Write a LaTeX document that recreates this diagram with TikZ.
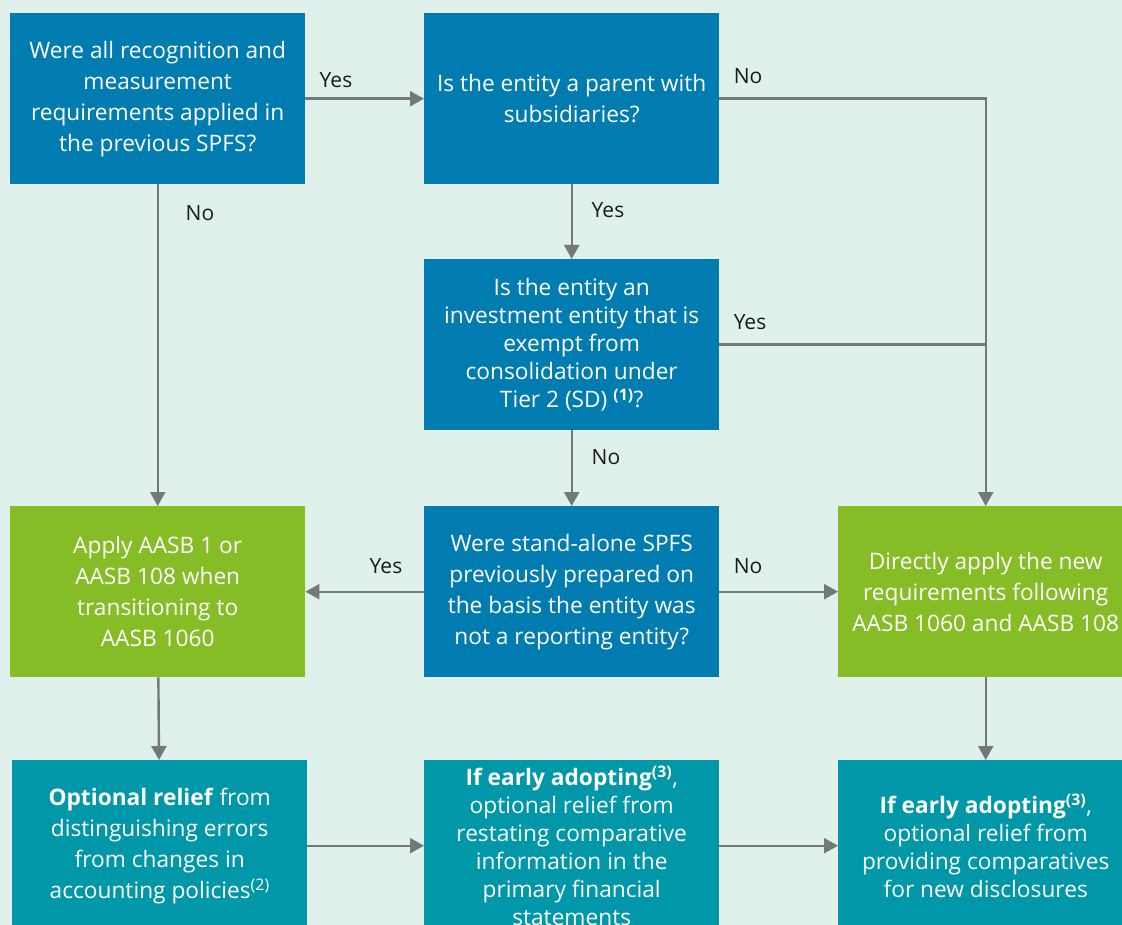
\documentclass[tikz,border=0pt]{standalone}
\usepackage{fontspec}
\setmainfont{Open Sans}
\usetikzlibrary{arrows.meta}
\definecolor{bgc}{HTML}{E0F0EA}
\definecolor{qblue}{HTML}{007CB0}
\definecolor{agreen}{HTML}{86BC25}
\definecolor{rteal}{HTML}{0097A9}
\definecolor{arrgray}{HTML}{75787B}
\definecolor{lbltext}{HTML}{1A1A1A}
\begin{document}
\begin{tikzpicture}[x=1pt,y=-1pt,
  box/.style={minimum width=295pt, minimum height=171pt, inner sep=0pt, align=center,
    text=white, anchor=north west, font=\fontsize{22.7}{31}\selectfont},
  tight/.style={font=\fontsize{22.7}{28}\selectfont},
  qbox/.style={box, fill=qblue},
  abox/.style={box, fill=agreen},
  rbox/.style={box, fill=rteal},
  conn/.style={draw=arrgray, line width=2.4pt},
  arr/.style={conn, -{Triangle[width=15pt,length=14pt]}},
  lbl/.style={text=lbltext, font=\fontsize{21}{24}\selectfont, inner sep=0pt}]
\useasboundingbox (0,0) rectangle (1122,925);
\clip (0,0) rectangle (1122,925);
\fill[bgc] (0,0) rectangle (1122,925);

\node[qbox] (A) at (10,13) {Were all recognition and\\measurement\\requirements applied in\\the previous SPFS?};
\node[qbox] (B) at (424,13) {Is the entity a parent with\\subsidiaries?};
\node[qbox,tight] (C) at (424,259) {Is the entity an\\investment entity that is\\exempt from\\consolidation under\\Tier 2 (SD) \textsuperscript{\textbf{(1)}}?};
\node[abox] (D) at (10,506) {Apply AASB 1 or\\AASB 108 when\\transitioning to\\AASB 1060};
\node[qbox] (E) at (424,506) {Were stand-alone SPFS\\previously prepared on\\the basis the entity was\\not a reporting entity?};
\node[abox] (F) at (838,506) {Directly apply the new\\requirements following\\AASB 1060 and AASB 108};
\node[rbox] (G) at (12,760) {\textbf{Optional relief} from\\distinguishing errors\\from changes in\\accounting policies\textsuperscript{(2)}};
\node[rbox,tight] (H) at (424,760) {\textbf{If early adopting\textsuperscript{(3)}},\\optional relief from\\restating comparative\\information in the\\primary financial\\statements};
\node[rbox,tight] (I) at (838,760) {\textbf{If early adopting\textsuperscript{(3)}},\\optional relief from\\providing comparatives\\for new disclosures};

\coordinate (J) at (C.east -| F.north);

\draw[arr] (A) -- (B);
\draw[arr] (A) -- (D);
\draw[arr] (B) -- (C);
\draw[arr] (B.east) -| (F.north);
\draw[conn] (C.east) -- (J);
\draw[arr] (C) -- (E);
\draw[arr] (E) -- (D);
\draw[arr] (E) -- (F);
\draw[arr] (D) -- (G);
\draw[arr] (G) -- (H);
\draw[arr] (H) -- (I);
\draw[arr] (F) -- (I);

\node[lbl] (l1) at (336,80) {Yes};
\node[lbl] (l2) at (200,213) {No};
\node[lbl] (l3) at (608,210) {Yes};
\node[lbl] (l4) at (748,76) {No};
\node[lbl] (l5) at (750,322) {Yes};
\node[lbl] (l6) at (606,457) {No};
\node[lbl] (l7) at (386,566) {Yes};
\node[lbl] (l8) at (748,566) {No};
\end{tikzpicture}
\end{document}
